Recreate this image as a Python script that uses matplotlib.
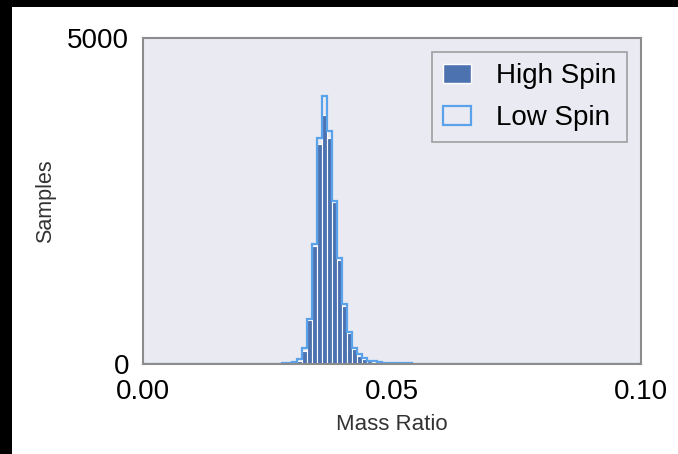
import numpy as np
import matplotlib
matplotlib.use('Agg')
import matplotlib.pyplot as plt
from matplotlib.patches import Rectangle, Patch

plt.rcParams['font.family'] = ['Liberation Sans', 'DejaVu Sans']

# bin edges: 0.001 wide, 0 to 0.1
bin_edges = np.round(np.arange(0.0, 0.1001, 0.001), 4)
bin_lo = 0.027  # first bin with counts

# counts per bin starting at bin_lo
high_spin = [3, 6, 12, 25, 45, 205, 675, 1810, 3370, 3820, 3462, 2485, 1590, 890,
             480, 235, 120, 75, 40, 30, 22, 16, 12, 10, 8, 8, 6, 5, 3, 2]
low_spin = [4, 8, 15, 30, 72, 240, 695, 1836, 3471, 4116, 3579, 2500, 1621, 920,
            496, 250, 160, 97, 50, 40, 30, 23, 16, 12, 10, 10, 8, 6, 3, 2]

centers = bin_lo + 0.0005 + 0.001 * np.arange(len(high_spin))

fig = plt.figure(figsize=(6.78, 4.54), dpi=100)
fig.patch.set_facecolor('black')
fig.patches.append(Rectangle((12 / 678, 0), 1, 1 - 7 / 454, transform=fig.transFigure,
                             facecolor='white', edgecolor='none', zorder=-10))

ax = fig.add_axes([143 / 678, 1 - 364 / 454, 498 / 678, 326 / 454])
ax.set_facecolor('#eaeaf2')

ax.hist(centers, bins=bin_edges, weights=high_spin, color='#4c72b0',
        edgecolor='white', linewidth=0.8, label='High Spin')
ax.hist(centers, bins=bin_edges, weights=low_spin, histtype='step',
        color='#5aa2ea', linewidth=1.6, label='Low Spin')

ax.set_xlim(0, 0.1)
ax.set_ylim(0, 5000)
ax.set_xticks([0.0, 0.05, 0.1])
ax.set_xticklabels(['0.00', '0.05', '0.10'])
ax.set_yticks([0, 5000])
ax.tick_params(axis='both', length=0, labelsize=20, colors='black')
ax.tick_params(axis='x', pad=11)
ax.tick_params(axis='y', pad=10)
for s in ax.spines.values():
    s.set_color('#8c8c8c')
    s.set_linewidth(1.5)

ax.set_xlabel('Mass Ratio', fontsize=16, color='#333333', labelpad=6)
ax.set_ylabel('Samples', fontsize=15.5, color='#333333', labelpad=8)

handles = [Patch(facecolor='#4c72b0', edgecolor='white', linewidth=1.0),
           Patch(facecolor='#eaeaf2', edgecolor='#5aa2ea', linewidth=1.6)]
leg = ax.legend(handles, ['High Spin', 'Low Spin'], loc='upper right', fontsize=20,
                frameon=True, fancybox=False, borderaxespad=0.5, handlelength=1.0,
                handleheight=0.7, handletextpad=0.9, borderpad=0.4, labelspacing=0.58)
leg.get_frame().set_facecolor('#eaeaf2')
leg.get_frame().set_edgecolor('#8c8c8c')
leg.get_frame().set_linewidth(1.2)

fig.savefig('out.png', dpi=100, facecolor=fig.get_facecolor())
